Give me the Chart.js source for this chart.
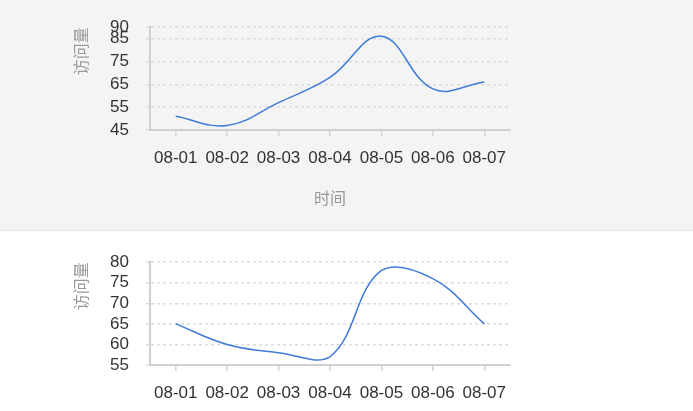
<!DOCTYPE html>
<html>
<head>
<meta charset="utf-8">
<script src="https://cdn.jsdelivr.net/npm/chart.js@4/dist/chart.umd.min.js"></script>
<style>
  html, body { margin: 0; padding: 0; background: #fff; overflow: hidden; }
  #top { position: absolute; left: 0; top: 0; width: 693px; height: 230px; background: #f4f4f4; border-bottom: 1px solid #e6e6e6; }
  #bottom { position: absolute; left: 0; top: 235px; width: 693px; height: 230px; }
</style>
</head>
<body>
<div id="top"><canvas id="chartTop" width="693" height="230"></canvas></div>
<div id="bottom"><canvas id="chartBottom" width="693" height="230"></canvas></div>
<script>
const days = ['08-01', '08-02', '08-03', '08-04', '08-05', '08-06', '08-07'];
const visitsTop = [51, 47, 57, 68, 86, 63, 66];
const visitsBottom = [65, 60, 58, 57, 78, 76, 65];
const topTickValues = [45, 55, 65, 75, 85, 90];
const bottomTickValues = [55, 60, 65, 70, 75, 80];

const tickFont = { family: 'Liberation Sans, Arial, sans-serif', size: 17 };
const titleFont = { family: 'Noto Sans CJK SC, sans-serif', size: 16 };

function makeChart(id, values, tickValues) {
  const ctx = document.getElementById(id).getContext('2d');
  return new Chart(ctx, {
    type: 'line',
    data: {
      labels: days,
      datasets: [{
        label: '访问量',
        data: values,
        borderColor: '#3f7bd8',
        borderWidth: 1.5,
        pointRadius: 0,
        tension: 0.4,
        fill: false
      }]
    },
    options: {
      responsive: false,
      animation: false,
      layout: { padding: { left: 0, right: 183, top: 25, bottom: 0 } },
      plugins: {
        legend: { display: false },
        tooltip: { enabled: false }
      },
      scales: {
        x: {
          offset: true,
          afterFit: s => { s.height = 100; },
          grid: { drawOnChartArea: false, drawTicks: true, tickLength: 6, color: '#d4d4d4', lineWidth: 1.5 },
          border: { display: true, color: '#d0d0d0', width: 2 },
          ticks: { color: '#333', font: tickFont, padding: 12, maxRotation: 0, autoSkip: false },
          title: { display: true, text: '时间', color: '#999', font: titleFont, padding: { bottom: 22 } }
        },
        y: {
          min: tickValues[0],
          max: tickValues[tickValues.length - 1],
          afterFit: s => { s.width = 150; },
          afterBuildTicks: s => { s.ticks = tickValues.map(v => ({ value: v })); },
          grid: { color: '#dcdcdc', lineWidth: 1.5, tickLength: 4, drawTicks: true },
          border: { display: true, color: '#d0d0d0', width: 2, dash: [3, 3] },
          ticks: { color: '#333', font: tickFont, padding: 17, autoSkip: false },
          title: { display: true, text: '访问量', color: '#999', font: titleFont, align: 'end', padding: { top: 71 } }
        }
      }
    }
  });
}

makeChart('chartTop', visitsTop, topTickValues);
makeChart('chartBottom', visitsBottom, bottomTickValues);
</script>
</body>
</html>
